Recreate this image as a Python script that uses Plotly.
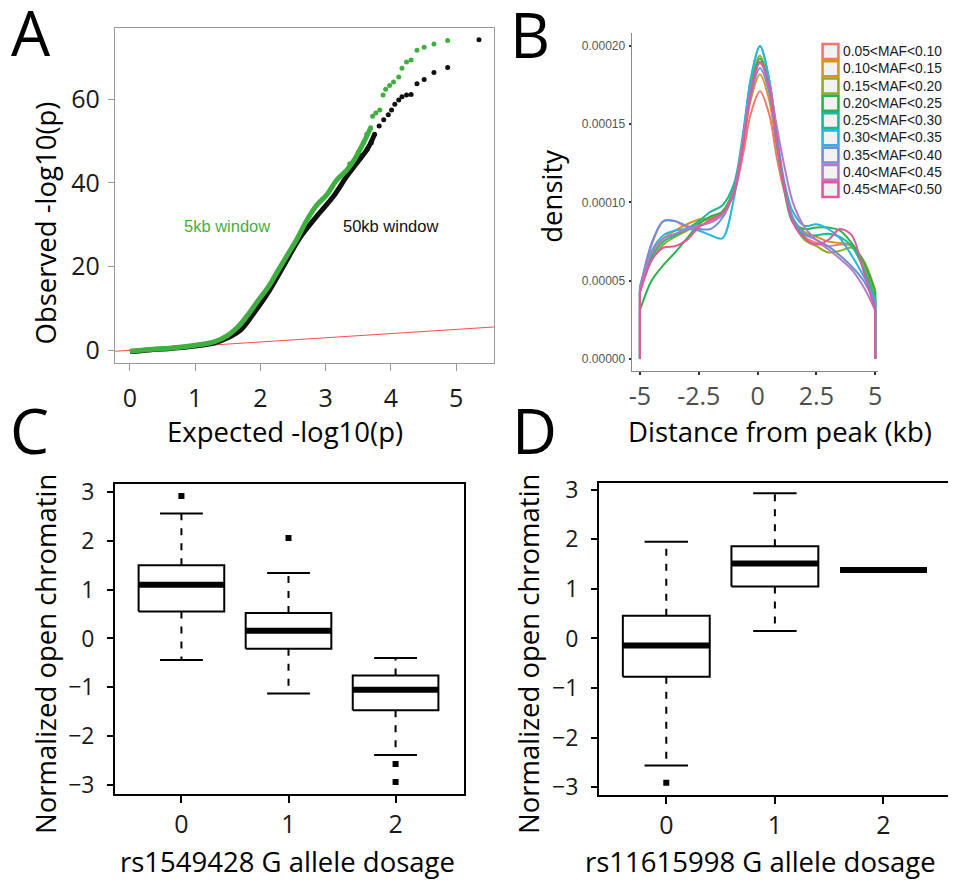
import numpy as np
import plotly.graph_objects as go

W, H = 953, 886

# ---------------- Panel A: QQ plot data ----------------
qq_ref = [-1.0, 6.0]

qq50_dense_x = [0, 0.3, 0.6, 1.0, 1.3, 1.5, 1.7, 1.9, 2.11, 2.36, 2.61, 2.84, 3.12, 3.32, 3.47, 3.64, 3.75]
qq50_dense_y = [-0.3, 0.1, 0.4, 1.0, 1.8, 3.0, 4.9, 8.9, 13.6, 20.3, 27.0, 31.6, 36.8, 41.5, 44.6, 48.1, 51.6]
qq50_tail_x = [3.45, 3.55, 3.64, 3.70, 3.75, 3.82, 3.89, 3.96, 4.01, 4.06, 4.12, 4.17, 4.24, 4.31, 4.40, 4.51, 4.66, 4.87, 5.35]
qq50_tail_y = [44.6, 46.5, 48.1, 49.6, 51.6, 53.6, 55.1, 56.3, 57.4, 58.8, 59.8, 60.6, 61.0, 61.1, 63.7, 64.7, 66.4, 67.6, 74.2]

qq5_dense_x = [0, 0.3, 0.6, 1.0, 1.3, 1.5, 1.65, 1.8, 1.96, 2.11, 2.26, 2.41, 2.56, 2.72, 2.87, 3.02, 3.17, 3.32, 3.45, 3.58, 3.69]
qq5_dense_y = [-0.2, 0.2, 0.5, 1.2, 2.1, 3.6, 5.5, 8.3, 11.8, 14.9, 18.8, 22.7, 26.6, 31.3, 34.8, 37.2, 40.7, 43.0, 45.8, 49.6, 53.2]
qq5_tail_x = [3.37, 3.50, 3.58, 3.63, 3.69, 3.72, 3.77, 3.83, 3.88, 3.92, 3.98, 4.04, 4.12, 4.17, 4.24, 4.31, 4.40, 4.51, 4.66, 4.87]
qq5_tail_y = [44.6, 47.3, 49.6, 51.6, 53.2, 55.9, 56.7, 57.4, 61.0, 62.4, 63.3, 64.1, 65.3, 67.4, 68.9, 69.4, 71.7, 72.4, 73.2, 74.0]

# ---------------- Panel B: density curves (values x 1e-5) ----------------
dist_kb = [-5, -4.5, -4, -3.5, -3, -2.5, -2, -1.5, -1, -0.6, -0.3, 0.1, 0.5, 0.8, 1.1, 1.5, 2, 2.5, 3, 3.5, 4, 4.5, 5]
maf_bins = ["0.05<MAF<0.10", "0.10<MAF<0.15", "0.15<MAF<0.20", "0.20<MAF<0.25", "0.25<MAF<0.30",
            "0.30<MAF<0.35", "0.35<MAF<0.40", "0.40<MAF<0.45", "0.45<MAF<0.50"]
dens_e5 = [
    [4.4, 7.3, 8.8, 8.8, 8.4, 8.5, 8.8, 9.3, 10.6, 13.2, 15.6, 17.1, 15.6, 13.0, 10.9, 8.9, 7.8, 7.4, 7.2, 7.3, 7.2, 5.8, 3.6],
    [4.3, 6.7, 7.7, 8.2, 8.6, 8.9, 9.0, 9.3, 10.8, 13.8, 16.5, 18.2, 16.5, 13.6, 11.2, 9.0, 8.1, 7.8, 7.5, 7.4, 7.3, 6.1, 3.9],
    [4.3, 6.3, 7.3, 7.8, 8.2, 8.7, 9.0, 9.4, 10.9, 14.3, 17.3, 19.4, 17.4, 14.2, 11.3, 8.8, 7.6, 7.2, 6.8, 6.9, 7.1, 6.3, 4.4],
    [3.1, 5.0, 6.0, 6.8, 7.7, 8.6, 9.1, 9.4, 10.9, 14.2, 17.1, 19.2, 17.2, 14.0, 11.1, 8.7, 8.3, 8.4, 8.4, 8.2, 7.4, 6.2, 4.3],
    [4.3, 6.5, 7.5, 7.9, 8.3, 8.8, 9.4, 9.8, 11.2, 14.6, 17.8, 20.0, 17.8, 14.5, 11.4, 8.9, 7.9, 7.9, 8.0, 7.8, 7.2, 5.8, 3.8],
    [4.6, 6.9, 7.9, 8.2, 8.3, 8.2, 7.9, 7.7, 10.3, 14.4, 17.8, 20.0, 17.8, 14.6, 11.6, 9.4, 8.5, 8.6, 8.3, 7.7, 6.6, 5.3, 3.8],
    [4.5, 7.4, 8.8, 8.8, 8.5, 8.3, 8.3, 9.0, 10.7, 14.0, 16.8, 18.6, 17.0, 14.0, 11.3, 9.0, 8.0, 7.6, 7.2, 6.6, 5.9, 5.0, 3.5],
    [4.5, 6.8, 7.7, 8.0, 8.3, 8.5, 8.7, 9.2, 10.8, 14.2, 17.1, 18.9, 17.5, 15.0, 12.6, 10.0, 8.4, 7.6, 7.0, 6.4, 5.7, 4.6, 3.1],
    [4.2, 6.3, 7.1, 7.2, 7.6, 8.4, 8.9, 9.3, 10.6, 13.8, 16.9, 19.0, 17.4, 14.2, 11.3, 8.7, 7.7, 7.3, 7.6, 8.3, 7.9, 5.6, 3.1],
]
maf_colors = ["#F3776E", "#D3952A", "#94A82A", "#2DB24A", "#1CB994", "#25B6E2", "#6F8FD6", "#B47CC8", "#E2579E"]

# ---------------- Panels C & D: box plot summaries ----------------
dosage = [0, 1, 2]
c_q1 = [0.55, -0.21, -1.47]
c_med = [1.10, 0.16, -1.05]
c_q3 = [1.50, 0.52, -0.76]
c_lo = [-0.44, -1.13, -2.39]
c_hi = [2.56, 1.34, -0.40]
c_out_x = [0, 1, 2, 2]
c_out_y = [2.92, 2.06, -2.57, -2.94]

d_q1 = [-0.77, 1.05, 1.38]
d_med = [-0.14, 1.51, 1.38]
d_q3 = [0.46, 1.86, 1.38]
d_lo = [-2.56, 0.15, 1.38]
d_hi = [1.95, 2.93, 1.38]
d_out_x = [0]
d_out_y = [-2.91]


def px(x):
    return x / W


def py(y):
    return 1 - y / H


fig = go.Figure()

# ---- Panel A traces ----
fig.add_trace(go.Scatter(x=qq_ref, y=qq_ref, mode="lines", line=dict(color="#ff4d4d", width=1),
                         xaxis="x", yaxis="y", hoverinfo="skip"))
fig.add_trace(go.Scatter(x=qq50_dense_x, y=qq50_dense_y, mode="lines", line=dict(color="#111111", width=5, shape="spline"),
                         xaxis="x", yaxis="y"))
fig.add_trace(go.Scatter(x=qq50_tail_x, y=qq50_tail_y, mode="markers", marker=dict(color="#111111", size=5),
                         xaxis="x", yaxis="y"))
fig.add_trace(go.Scatter(x=qq5_dense_x, y=qq5_dense_y, mode="lines", line=dict(color="#3fb040", width=5, shape="spline"),
                         xaxis="x", yaxis="y"))
fig.add_trace(go.Scatter(x=qq5_tail_x, y=qq5_tail_y, mode="markers", marker=dict(color="#3fb040", size=5),
                         xaxis="x", yaxis="y"))

# ---- Panel B traces ----
for vals, col in zip(dens_e5, maf_colors):
    yv = np.array(vals) * 1e-5
    fig.add_trace(go.Scatter(x=dist_kb, y=yv, mode="lines",
                             line=dict(color=col, width=2, shape="spline", smoothing=0.9),
                             xaxis="x2", yaxis="y2"))
    # density falls to zero at the window bounds
    fig.add_trace(go.Scatter(x=[dist_kb[0], dist_kb[0], None, dist_kb[-1], dist_kb[-1]],
                             y=[0, yv[0], None, yv[-1], 0], mode="lines",
                             line=dict(color=col, width=2), xaxis="x2", yaxis="y2"))


# ---- Panels C/D box plots ----
def add_boxes(q1, med, q3, lo, hi, ox, oy, xa, ya):
    hw, cw = 0.4, 0.2
    bx, by, mx, my, wx, wy, cx, cy = [], [], [], [], [], [], [], []
    for g, a, m, b, l, h in zip(dosage, q1, med, q3, lo, hi):
        bx += [g - hw, g + hw, g + hw, g - hw, g - hw, None]
        by += [a, a, b, b, a, None]
        mx += [g - hw, g + hw, None]
        my += [m, m, None]
        wx += [g, g, None, g, g, None]
        wy += [b, h, None, a, l, None]
        if h != b or l != a:
            cx += [g - cw, g + cw, None, g - cw, g + cw, None]
            cy += [h, h, None, l, l, None]
    fig.add_trace(go.Scatter(x=wx, y=wy, mode="lines", line=dict(color="black", width=2, dash="7px,8px"),
                             xaxis=xa, yaxis=ya))
    fig.add_trace(go.Scatter(x=cx, y=cy, mode="lines", line=dict(color="black", width=2), xaxis=xa, yaxis=ya))
    fig.add_trace(go.Scatter(x=bx, y=by, mode="lines", line=dict(color="black", width=2), xaxis=xa, yaxis=ya))
    fig.add_trace(go.Scatter(x=mx, y=my, mode="lines", line=dict(color="black", width=6), xaxis=xa, yaxis=ya))
    fig.add_trace(go.Scatter(x=ox, y=oy, mode="markers", marker=dict(color="black", size=6, symbol="square"),
                             xaxis=xa, yaxis=ya))


add_boxes(c_q1, c_med, c_q3, c_lo, c_hi, c_out_x, c_out_y, "x3", "y3")
add_boxes(d_q1, d_med, d_q3, d_lo, d_hi, d_out_x, d_out_y, "x4", "y4")

LAB = "Open Sans"
ARIAL = "Liberation Sans"

common = dict(showgrid=False, zeroline=False, fixedrange=True)

axA_x = dict(common, domain=[px(113), px(495)], range=[-0.228, 5.578], showline=True, linecolor="#9a9a9a",
             linewidth=1.3, mirror=True, ticks="outside", ticklen=7, tickcolor="#9a9a9a", tickwidth=1.2,
             tickvals=[0, 1, 2, 3, 4, 5], tickfont=dict(family=LAB, size=25, color="#1a1a1a"),
             ticklabelstandoff=6, anchor="y")
axA_y = dict(common, domain=[py(360), py(18)], range=[-3.05, 77.1], showline=True, linecolor="#9a9a9a",
             linewidth=1.3, mirror=True, ticks="outside", ticklen=6, tickcolor="#9a9a9a", tickwidth=1.2,
             tickvals=[0, 20, 40, 60], tickfont=dict(family=LAB, size=25, color="#1a1a1a"),
             ticklabelstandoff=3, anchor="x")

axB_x = dict(common, domain=[px(634), px(882)], range=[-5.35, 5.1], showline=True, linecolor="#8a8a8a",
             linewidth=1.2, ticks="outside", ticklen=3, tickcolor="#333333", tickwidth=1.5,
             tickvals=[-5, -2.5, 0, 2.5, 5], ticktext=["-5", "-2.5", "0", "2.5", "5"],
             tickfont=dict(family=LAB, size=25, color="#4d4d4d"), ticklabelstandoff=0, anchor="y2")
axB_y = dict(common, domain=[py(368), py(23)], range=[-0.78e-5, 20.86e-5], showline=True, linecolor="#8a8a8a",
             linewidth=1.2, ticks="outside", ticklen=2, tickcolor="#333333", tickwidth=1.5,
             tickvals=[0, 5e-5, 10e-5, 15e-5, 20e-5],
             ticktext=["0.00000", "0.00005", "0.00010", "0.00015", "0.00020"],
             tickfont=dict(family=ARIAL, size=12, color="#555555"), ticklabelstandoff=1, anchor="x2")

axC_x = dict(common, domain=[px(113), px(465)], range=[-0.62, 2.64], showline=True, linecolor="black",
             linewidth=2, mirror=True, ticks="outside", ticklen=7, tickwidth=2, tickcolor="black",
             tickvals=[0, 1, 2], tickfont=dict(family=LAB, size=25, color="#1a1a1a"),
             ticklabelstandoff=0, anchor="y3")
axC_y = dict(common, domain=[py(799), py(483)], range=[-3.18, 3.17], showline=True, linecolor="black",
             linewidth=2, mirror=True, ticks="outside", ticklen=6, tickwidth=2, tickcolor="black",
             tickvals=[-3, -2, -1, 0, 1, 2, 3], tickfont=dict(family=LAB, size=23, color="#1a1a1a"),
             ticklabelstandoff=8, anchor="x3")

axD_x = dict(common, domain=[px(601), 1.0], range=[-0.62, 2.594], showline=True, linecolor="black",
             linewidth=2, mirror=True, ticks="outside", ticklen=7, tickwidth=2, tickcolor="black",
             tickvals=[0, 1, 2], tickfont=dict(family=LAB, size=25, color="#1a1a1a"),
             ticklabelstandoff=0, anchor="y4")
axD_y = dict(common, domain=[py(800), py(482)], range=[-3.15, 3.14], showline=True, linecolor="black",
             linewidth=2, mirror=False, ticks="outside", ticklen=6, tickwidth=2, tickcolor="black",
             tickvals=[-3, -2, -1, 0, 1, 2, 3], tickfont=dict(family=LAB, size=23, color="#1a1a1a"),
             ticklabelstandoff=8, anchor="x4")

annotations = []


def ann(text, x, y, size, family=LAB, color="black", angle=0, xanchor="center"):
    annotations.append(dict(text=text, x=px(x), y=py(y), xref="paper", yref="paper", showarrow=False,
                            xanchor=xanchor, yanchor="middle", textangle=angle,
                            font=dict(family=family, size=size, color=color)))


# panel letters
ann("A", 28, 22, 62)
ann("B", 531, 24, 62)
ann("C", 27, 428, 62)
ann("D", 536, 428, 62)

# axis titles
ann("Observed -log10(p)", 43, 217, 27.5, angle=-90)
ann("Expected -log10(p)", 284, 430, 27.5)
ann("density", 553, 190, 27.5, angle=-90)
ann("Distance from peak (kb)", 784, 430, 27.5)
ann("Normalized open chromatin", 43, 657, 27.5, angle=-90)
ann("rs1549428 G allele dosage", 287, 868, 27.5)
ann("Normalized open chromatin", 530, 657, 27.5, angle=-90)
ann("rs11615998 G allele dosage", 764, 868, 27.5)

# QQ labels
ann("5kb window", 226, 220, 16.5, family=ARIAL, color="#3fb040")
ann("50kb window", 391, 220, 16.5, family=ARIAL, color="#111111")

# legend for panel B
shapes = []
for i, (lab, col) in enumerate(zip(maf_bins, maf_colors)):
    yc = 42.3 + i * 17.6
    shapes.append(dict(type="rect", xref="paper", yref="paper", x0=px(826.5), x1=px(842.5),
                       y0=py(yc + 7.6), y1=py(yc - 7.6), line=dict(color=col, width=2.6), fillcolor="#f2f2f2"))
    ann(lab, 845.5, yc, 13.8, family=ARIAL, color="#1a1a1a", xanchor="left")

fig.update_layout(
    width=W, height=H, margin=dict(l=0, r=0, t=0, b=0),
    paper_bgcolor="white", plot_bgcolor="white", showlegend=False,
    xaxis=axA_x, yaxis=axA_y, xaxis2=axB_x, yaxis2=axB_y,
    xaxis3=axC_x, yaxis3=axC_y, xaxis4=axD_x, yaxis4=axD_y,
    annotations=annotations, shapes=shapes,
)

fig.write_html("out.html")
